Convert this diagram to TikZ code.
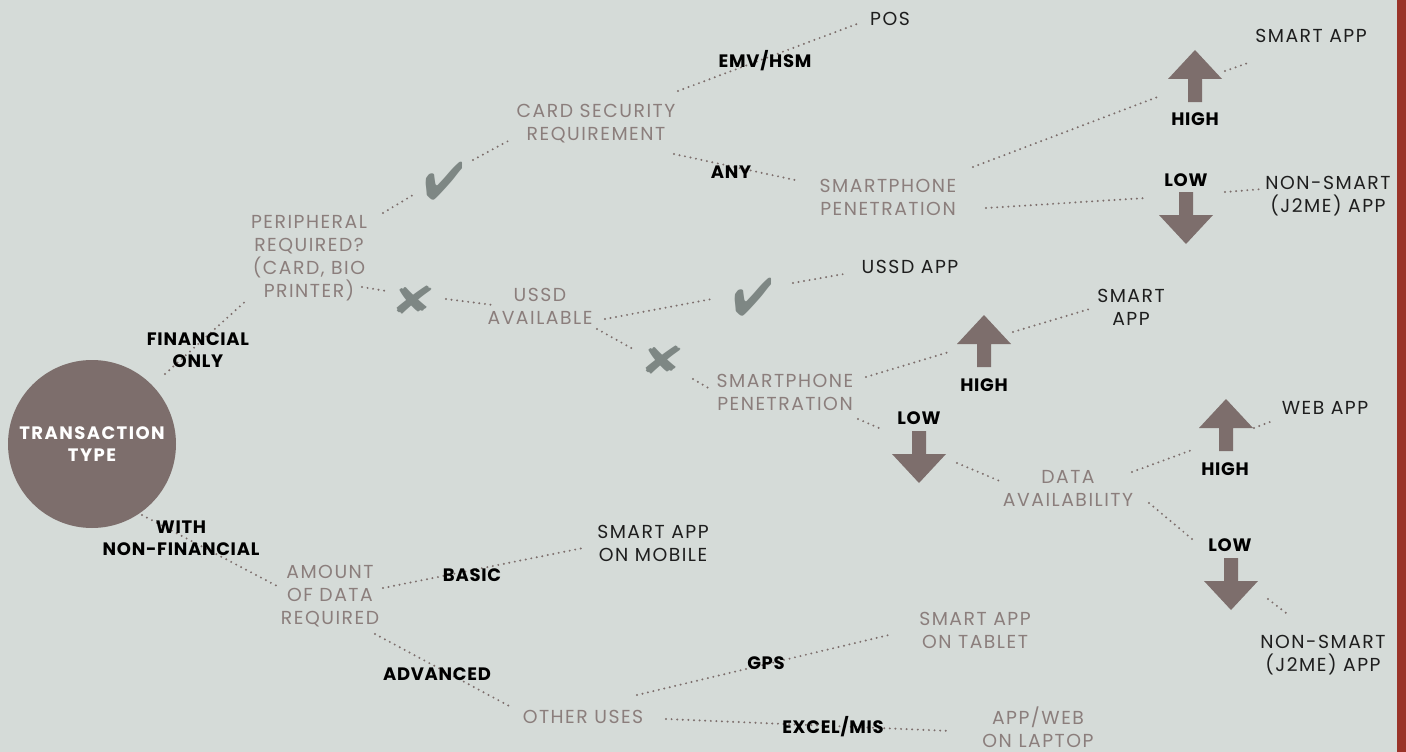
\documentclass[tikz,border=0pt]{standalone}
\usepackage{fontspec}
\setmainfont{Poppins}
\newfontfamily\widefont{Poppins}[LetterSpace=8.0]
\newfontfamily\labelfont{Poppins}[LetterSpace=4.0]
\usepackage{pifont}
\usetikzlibrary{calc}
\definecolor{bgcol}{HTML}{D5DBD8}
\definecolor{browncol}{HTML}{7D6E6C}
\definecolor{qcol}{HTML}{8B7E7C}
\definecolor{markcol}{HTML}{7E8784}
\definecolor{leafcol}{HTML}{1E1E1E}
\definecolor{barcol}{HTML}{9A3328}
% dotted connector between two named nodes, each end offset from the node centre
\newcommand\linkdots[4]{\draw[dotline] ([shift={#2}]#1.center) -- ([shift={#4}]#3.center);}
\begin{document}
\begin{tikzpicture}[x=1pt,y=-1pt,
  dotline/.style={draw=browncol, line width=2.2pt, line cap=round, dash pattern=on 0pt off 5.6pt},
  question/.style={text=qcol, font=\widefont\fontsize{18.8}{23}\selectfont, align=center, inner sep=0pt},
  outcome/.style={text=leafcol, font=\widefont\fontsize{18.8}{23}\selectfont, align=center, inner sep=0pt},
  choice/.style={text=black, font=\labelfont\fontsize{18}{22.5}\selectfont\bfseries, align=center, inner sep=0pt},
  tick/.style={text=markcol, font=\fontsize{46}{46}\selectfont, inner sep=0pt},
  yesmark/.style={tick, xscale=1.02, yscale=1.15},
  nomark/.style={tick, xscale=1.25, yscale=0.85},
  block/.style={minimum width=54pt, minimum height=52pt, inner sep=0pt},
  uparrow/.style={block, path picture={
    \fill[browncol] (path picture bounding box.north)
      -- ([xshift=27pt,yshift=-29pt]path picture bounding box.north)
      -- ([xshift=7pt,yshift=-29pt]path picture bounding box.north)
      -- ([xshift=7pt]path picture bounding box.south)
      -- ([xshift=-7pt]path picture bounding box.south)
      -- ([xshift=-7pt,yshift=-29pt]path picture bounding box.north)
      -- ([xshift=-27pt,yshift=-29pt]path picture bounding box.north) -- cycle;}},
  downarrow/.style={block, path picture={
    \fill[browncol] (path picture bounding box.south)
      -- ([xshift=27pt,yshift=29pt]path picture bounding box.south)
      -- ([xshift=7pt,yshift=29pt]path picture bounding box.south)
      -- ([xshift=7pt]path picture bounding box.north)
      -- ([xshift=-7pt]path picture bounding box.north)
      -- ([xshift=-7pt,yshift=29pt]path picture bounding box.south)
      -- ([xshift=-27pt,yshift=29pt]path picture bounding box.south) -- cycle;}}
]
% canvas
\fill[bgcol] (0,0) rectangle (1406,752);
\useasboundingbox (0,0) rectangle (1406,752);
\fill[barcol] (1397,0) rectangle (1406,752);

% root
\node[circle, fill=browncol, minimum size=168pt, inner sep=0pt, text=white,
      font=\widefont\fontsize{18}{22.5}\selectfont\bfseries, align=center] (circ) at (92,444) {TRANSACTION\\TYPE};

% decision points
\node[question] (periph) at (309,258) {PERIPHERAL\\REQUIRED?\\(CARD, BIO\\PRINTER)};
\node[question] (cardsec) at (596,124) {CARD SECURITY\\REQUIREMENT};
\node[question] (sp1) at (888,197) {SMARTPHONE\\PENETRATION};
\node[question] (ussd) at (540,306) {USSD\\AVAILABLE};
\node[question] (sp2) at (785,392) {SMARTPHONE\\PENETRATION};
\node[question] (data) at (1068,488) {DATA\\AVAILABILITY};
\node[question] (amount) at (330,596) {AMOUNT\\OF DATA\\REQUIRED};
\node[question] (other) at (583,717) {OTHER USES};
\node[question] (tablet) at (975,630) {SMART APP\\ON TABLET};
\node[question] (laptop) at (1038,727) {APP/WEB\\ON LAPTOP};

% outcomes
\node[outcome] (pos) at (890,19) {POS};
\node[outcome] (smartapp1) at (1311,36) {SMART APP};
\node[outcome] (nonsmart1) at (1328,196) {NON-SMART\\(J2ME) APP};
\node[outcome] (ussdapp) at (910,267) {USSD APP};
\node[outcome] (smartapp2) at (1131,307) {SMART\\APP};
\node[outcome] (webapp) at (1325,408) {WEB APP};
\node[outcome] (nonsmart2) at (1323,655) {NON-SMART\\(J2ME) APP};
\node[outcome] (mobile) at (653,543) {SMART APP\\ON MOBILE};

% yes / no marks
\node[yesmark] (chk1) at (444,181) {\ding{52}};
\node[nomark] (crs1) at (414,300) {\ding{56}};
\node[yesmark] (chk2) at (753,297) {\ding{52}};
\node[nomark] (crs2) at (663,360) {\ding{56}};

% high / low arrows
\node[uparrow] (up1) at (1195,76) {};
\node[downarrow] (down1) at (1186,218) {};
\node[uparrow] (up2) at (984,341) {};
\node[downarrow] (down2) at (919,457) {};
\node[uparrow] (up3) at (1226,425) {};
\node[downarrow] (down3) at (1231,584) {};

% connectors
\linkdots{circ}{(73,-70)}{periph}{(-61,41)}
\linkdots{periph}{(74,-45)}{chk1}{(-31,14)}
\linkdots{chk1}{(29,-21)}{cardsec}{(-86,16)}
\linkdots{cardsec}{(82,-33)}{pos}{(-33,5)}
\linkdots{cardsec}{(78,30)}{sp1}{(-93,-17)}
\linkdots{sp1}{(85,-30)}{up1}{(-35,20)}
\linkdots{up1}{(30,-5)}{smartapp1}{(-63,27)}
\linkdots{sp1}{(98,11)}{down1}{(-40,-20)}
\linkdots{down1}{(39,-26)}{nonsmart1}{(-65,-7)}
\linkdots{periph}{(53,29)}{crs1}{(-28,-9)}
\linkdots{crs1}{(32,-1)}{ussd}{(-47,-1)}
\linkdots{ussd}{(65,13)}{chk2}{(-41,2)}
\linkdots{chk2}{(40,-14)}{ussdapp}{(-66,7)}
\linkdots{ussd}{(57,23)}{crs2}{(-30,-11)}
\linkdots{crs2}{(30,19)}{sp2}{(-75,-3)}
\linkdots{sp2}{(81,-15)}{up2}{(-35,11)}
\linkdots{up2}{(29,-9)}{smartapp2}{(-38,1)}
\linkdots{sp2}{(73,27)}{down2}{(-40,-29)}
\linkdots{down2}{(38,6)}{data}{(-66,-6)}
\linkdots{data}{(64,-16)}{up3}{(-34,25)}
\linkdots{up3}{(28,3)}{webapp}{(-55,14)}
\linkdots{data}{(81,15)}{down3}{(-39,-45)}
\linkdots{down3}{(37,15)}{nonsmart2}{(-37,-42)}
\linkdots{circ}{(50,71)}{amount}{(-53,-10)}
\linkdots{amount}{(53,-8)}{mobile}{(-70,5)}
\linkdots{amount}{(45,38)}{other}{(-72,-10)}
\linkdots{other}{(54,-22)}{tablet}{(-82,4)}
\linkdots{other}{(83,2)}{laptop}{(-87,4)}

% branch labels
\node[choice] (fin) at (198,350) {FINANCIAL\\ONLY};
\node[choice] (nonfin) at (181,538) {WITH\\NON-FINANCIAL};
\node[choice] (emv) at (765,61) {EMV/HSM};
\node[choice] (any) at (731,172) {ANY};
\node[choice] (hi1) at (1195,119) {HIGH};
\node[choice] (lo1) at (1186,180) {LOW};
\node[choice] (hi2) at (984,385) {HIGH};
\node[choice] (lo2) at (919,418) {LOW};
\node[choice] (hi3) at (1225,469) {HIGH};
\node[choice] (lo3) at (1230,545) {LOW};
\node[choice] (basic) at (472,575) {BASIC};
\node[choice] (adv) at (437,674) {ADVANCED};
\node[choice] (gps) at (766,663) {GPS};
\node[choice] (excel) at (833,727) {EXCEL/MIS};
\end{tikzpicture}
\end{document}
